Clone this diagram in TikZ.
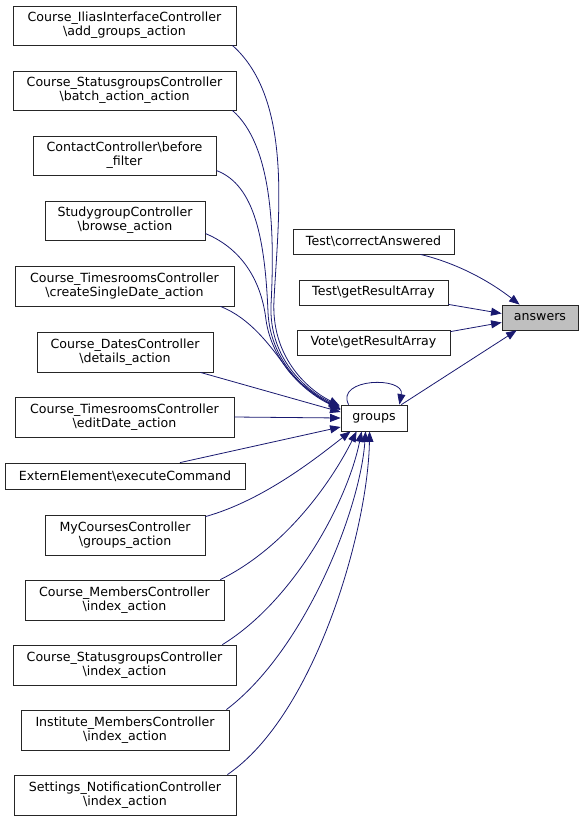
\documentclass[tikz,border=0pt]{standalone}
\usepackage{fontspec}
\setmainfont{DejaVu Sans}
\usetikzlibrary{arrows.meta,calc}
\definecolor{edgeblue}{RGB}{25,25,112}
\begin{document}
\begin{tikzpicture}[x=1pt,y=-1pt,
  fn/.style={draw=black!85,line width=0.8pt,fill=white,inner sep=0pt,align=center,
    font=\fontsize{12.6}{14.3}\selectfont},
  edge/.style={draw=edgeblue,line width=0.8pt,-{Triangle[length=10.5pt,width=8pt]}}]
\useasboundingbox (0,0) rectangle (584,823);
% left callers
\node[fn,minimum width=223pt,minimum height=39pt] (n1) at (124.5,25.5) {Course\_IliasInterfaceController\\\textbackslash add\_groups\_action};
\node[fn,minimum width=223pt,minimum height=39pt] (n2) at (124.5,90.5) {Course\_StatusgroupsController\\\textbackslash batch\_action\_action};
\node[fn,minimum width=183pt,minimum height=39pt] (n3) at (124.5,155.5) {ContactController\textbackslash before\\\_filter};
\node[fn,minimum width=160pt,minimum height=39pt] (n4) at (125,220.5) {StudygroupController\\\textbackslash browse\_action};
\node[fn,minimum width=219pt,minimum height=40pt] (n5) at (124.5,286) {Course\_TimesroomsController\\\textbackslash createSingleDate\_action};
\node[fn,minimum width=176pt,minimum height=40pt] (n6) at (125,352) {Course\_DatesController\\\textbackslash details\_action};
\node[fn,minimum width=219pt,minimum height=40pt] (n7) at (124.5,417) {Course\_TimesroomsController\\\textbackslash editDate\_action};
\node[fn,minimum width=240pt,minimum height=26pt] (n8) at (125,476) {ExternElement\textbackslash executeCommand};
\node[fn,minimum width=160pt,minimum height=40pt] (n9) at (125,535) {MyCoursesController\\\textbackslash groups\_action};
\node[fn,minimum width=199pt,minimum height=40pt] (n10) at (124.5,600) {Course\_MembersController\\\textbackslash index\_action};
\node[fn,minimum width=223pt,minimum height=40pt] (n11) at (124.5,665) {Course\_StatusgroupsController\\\textbackslash index\_action};
\node[fn,minimum width=208pt,minimum height=40pt] (n12) at (125,730) {Institute\_MembersController\\\textbackslash index\_action};
\node[fn,minimum width=222pt,minimum height=40pt] (n13) at (125,795) {Settings\_NotificationController\\\textbackslash index\_action};
% right callers
\node[fn,minimum width=161pt,minimum height=25pt] (ca) at (373.5,241.5) {Test\textbackslash correctAnswered};
\node[fn,minimum width=149pt,minimum height=25pt] (tr) at (373.5,292.5) {Test\textbackslash getResultArray};
\node[fn,minimum width=153pt,minimum height=25pt] (vr) at (373.5,342.5) {Vote\textbackslash getResultArray};
\node[fn,minimum width=76pt,minimum height=25pt,fill=black!25] (ans) at (540,317.5) {answers};
\node[fn,minimum width=66pt,minimum height=26pt] (g) at (374,418) {groups};
% edges into answers
\draw[edge] ($(ca.south)+(47,0)$) .. controls (460,264) and (492,283) .. ($(ans.north west)+(18,0)$);
\draw[edge] ($(tr.south east)+(0,-1)$) -- ($(ans.west)+(0,-4)$);
\draw[edge] ($(vr.north east)+(0,2)$) -- ($(ans.west)+(0,5)$);
\draw[edge] ($(g.north east)+(-6,0)$) -- ($(ans.south west)+(15,0)$);
% self loop
\draw[edge] ($(g.north west)+(8,0)$) .. controls (335,378) and (405,376) .. ($(g.north east)+(-8,0)$);
% edges into groups
\draw[edge] ($(n1.south east)+(-4,0)$) .. controls (294,100) and (278,220) .. (274,300) .. controls (271,355) and (305,388) .. ($(g.north west)+(-1,1)$);
\draw[edge] ($(n2.south east)+(-4,0)$) .. controls (272,145) and (275,230) .. (271,305) .. controls (269,358) and (305,390) .. ($(g.north west)+(-1,2)$);
\draw[edge] ($(n3.east)+(0,15)$) .. controls (255,185) and (265,240) .. (268,312) .. controls (270,360) and (305,392) .. ($(g.north west)+(-1,3)$);
\draw[edge] ($(n4.east)+(0,13)$) .. controls (245,250) and (262,285) .. (266,320) .. controls (272,362) and (305,393) .. ($(g.west)+(0,-9)$);
\draw[edge] ($(n5.south east)+(-14,0)$) .. controls (250,318) and (270,345) .. (288,370) .. controls (300,385) and (320,398) .. ($(g.west)+(0,-8)$);
\draw[edge] ($(n6.south east)+(-13,0)$) -- ($(g.west)+(0,-6)$);
\draw[edge] (n7.east) -- (g.west);
\draw[edge] ($(n8.north)+(55,0)$) -- ($(g.west)+(0,9)$);
\draw[edge] ($(n9.north east)+(0,2)$) .. controls (265,500) and (320,455) .. ($(g.south west)+(10,0)$);
\draw[edge] ($(n10.north east)+(-4,0)$) .. controls (290,545) and (335,475) .. ($(g.south west)+(16,0)$);
\draw[edge] ($(n11.north east)+(-14,0)$) .. controls (295,600) and (348,500) .. ($(g.south west)+(21,0)$);
\draw[edge] ($(n12.north east)+(-3,0)$) .. controls (305,650) and (360,510) .. ($(g.south west)+(25,0)$);
\draw[edge] ($(n13.north east)+(-9,0)$) .. controls (315,715) and (368,530) .. ($(g.south west)+(29,0)$);
\end{tikzpicture}
\end{document}
